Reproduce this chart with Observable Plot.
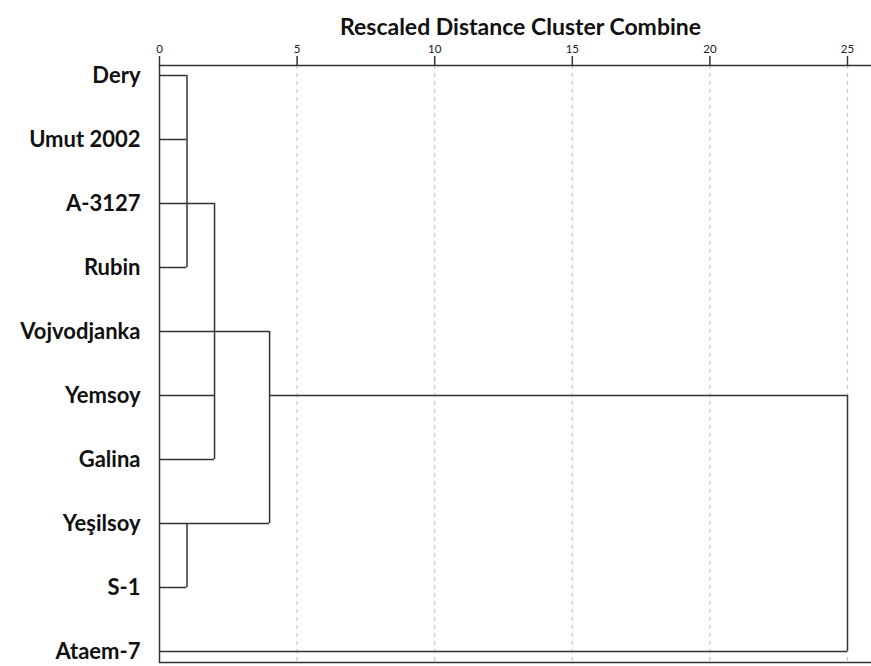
<!DOCTYPE html>
<html>
<head>
<meta charset="utf-8">
<script src="https://cdn.jsdelivr.net/npm/d3@7"></script>
<script src="https://cdn.jsdelivr.net/npm/@observablehq/plot@0.6"></script>
<style>
  html, body { margin: 0; padding: 0; background: #fff; overflow: hidden; }
  #chart { width: 871px; height: 666px; }
</style>
</head>
<body>
<div id="chart"></div>
<script>
// Leaves, top to bottom
const leaves = ["Dery", "Umut 2002", "A-3127", "Rubin", "Vojvodjanka", "Yemsoy", "Galina", "Yeşilsoy", "S-1", "Ataem-7"];
// Rescaled distance at which each leaf's branch ends
const leafJoin = [1, 1, 2, 1, 4, 2, 2, 4, 1, 25];
// Vertical joins of the dendrogram
const joinDistance = [1, 2, 1, 4, 25];
const joinFrom = ["Dery", "A-3127", "Yeşilsoy", "Vojvodjanka", "Yemsoy"];
const joinTo = ["Rubin", "Galina", "S-1", "Yeşilsoy", "Ataem-7"];
// Links from a join to the next join
const linkRow = ["Yemsoy"];
const linkFrom = [4];
const linkTo = [25];
// Axis
const xTicks = [0, 5, 10, 15, 20, 25];
const gridTicks = [5, 10, 15, 20, 25];
const title = "Rescaled Distance Cluster Combine";

const horizontals = leaves.map((leaf, i) => ({row: leaf, x1: 0, x2: leafJoin[i]}))
  .concat(linkRow.map((r, i) => ({row: r, x1: linkFrom[i], x2: linkTo[i]})));
const verticals = joinDistance.map((d, i) => ({d, from: joinFrom[i], to: joinTo[i]}));

const W = 871, H = 666;
const mL = 159, unit = (847 - 159) / 25;
const xMax = (W - mL) / unit;

const lineColor = "#333";

const chart = Plot.plot({
  width: W,
  height: H,
  marginLeft: mL,
  marginRight: 0,
  marginTop: 65,
  marginBottom: 4,
  style: {fontFamily: "Lato, 'Open Sans', sans-serif", background: "#fff", color: "#111"},
  x: {domain: [0, xMax], axis: null},
  y: {type: "point", domain: leaves, padding: 0, insetTop: 6, insetBottom: 7, axis: null},
  marks: [
    Plot.ruleX(gridTicks, {stroke: "#c8c8c8", strokeWidth: 1.2, strokeDasharray: "4,4"}),
    Plot.frame({stroke: lineColor, strokeWidth: 1.5, insetRight: -3}),
    Plot.axisX({anchor: "top", ticks: xTicks, tickSize: 10, tickPadding: 3, fontSize: 11.5, stroke: lineColor, strokeWidth: 1.5, fill: "#222", label: null}),
    Plot.axisY({anchor: "left", tickSize: 0, tickPadding: 19, fontSize: 22, fontWeight: "bold", fill: "#111", label: null}),
    Plot.ruleY(horizontals, {y: "row", x1: "x1", x2: "x2", stroke: lineColor, strokeWidth: 1.5}),
    Plot.ruleX(verticals, {x: "d", y1: "from", y2: "to", stroke: lineColor, strokeWidth: 1.5}),
    Plot.text([title], {frameAnchor: "top", dx: 5, dy: -47, fontSize: 23, fontWeight: "bold", fill: "#111"})
  ]
});
document.getElementById("chart").appendChild(chart);
</script>
</body>
</html>
